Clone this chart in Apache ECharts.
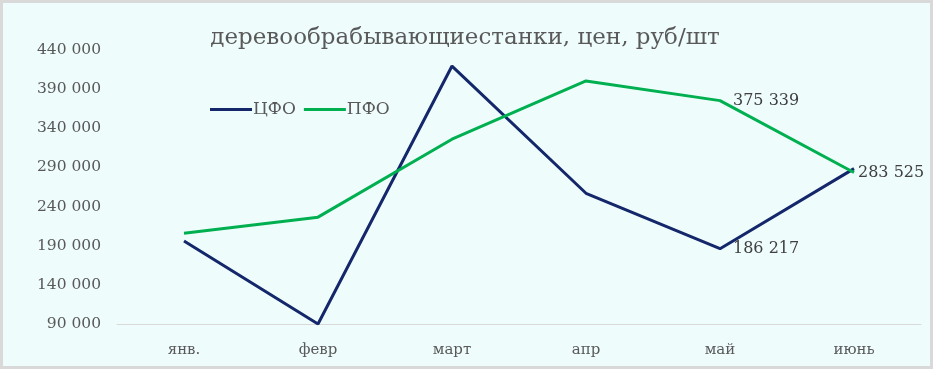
<!DOCTYPE html>
<html><head><meta charset="utf-8">
<script src="https://cdn.jsdelivr.net/npm/echarts@6/dist/echarts.min.js"></script>
<style>
html,body{margin:0;padding:0;background:#fff;}
#c{width:933px;height:369px;box-sizing:border-box;border:3px solid #d9d9d9;background:#effcfc;}
</style></head><body>
<div id="c"></div>
<script>
const categories = ['янв.', 'февр', 'март', 'апр', 'май', 'июнь'];
const cfo = [196000, 90000, 419500, 257000, 186217, 288500];
const pfo = [206000, 226500, 326000, 400500, 375339, 283525];
const labelIdxCfo = [4];
const labelIdxPfo = [4, 5];
const yMin = 90000, yMax = 440000, yStep = 50000;

const fmt = v => String(Math.round(v)).replace(/\B(?=(\d{3})+(?!\d))/g, ' ');
const font = '"DejaVu Serif", "Liberation Serif", serif';
const chart = echarts.init(document.getElementById('c'));
function mk(vals, idx) {
  return vals.map((v, i) => idx.includes(i)
    ? {value: v, label: {show: true, distance: i === vals.length - 1 ? 4 : 13}} : v);
}
chart.setOption({
  backgroundColor: 'transparent',
  animation: false,
  title: {
    text: 'деревообрабывающиестанки, цен, руб/шт',
    left: 457, top: 19, textAlign: 'center',
    textStyle: {fontFamily: font, fontSize: 23, fontWeight: 'normal', color: '#595959'}
  },
  legend: {
    left: 202, top: 93, itemWidth: 42, itemHeight: 3, itemGap: 8,
    icon: 'rect',
    textStyle: {fontFamily: font, fontSize: 17, color: '#595959', padding: [0, 0, 0, -4]},
    data: ['ЦФО', 'ПФО']
  },
  grid: {left: 114, right: 9, top: 47, bottom: 42},
  xAxis: {
    type: 'category', data: categories, boundaryGap: true,
    axisLine: {lineStyle: {color: '#d9d9d9', width: 1}},
    axisTick: {show: false},
    axisLabel: {fontFamily: font, fontSize: 15, color: '#595959', margin: 19}
  },
  yAxis: {
    type: 'value', min: yMin, max: yMax, interval: yStep,
    axisLine: {show: false}, axisTick: {show: false},
    splitLine: {show: false},
    axisLabel: {fontFamily: font, fontSize: 15.5, color: '#595959', margin: 16, formatter: fmt}
  },
  series: [
    {name: 'ЦФО', type: 'line', data: mk(cfo, labelIdxCfo), symbol: 'circle', symbolSize: 0, showSymbol: true,
     lineStyle: {color: '#14276a', width: 3}, itemStyle: {color: '#14276a'},
     label: {show: false, position: 'right', fontFamily: font, fontSize: 16, color: '#404040', formatter: p => fmt(p.value)}},
    {name: 'ПФО', type: 'line', data: mk(pfo, labelIdxPfo), symbol: 'circle', symbolSize: 0, showSymbol: true,
     lineStyle: {color: '#00b050', width: 3}, itemStyle: {color: '#00b050'},
     label: {show: false, position: 'right', fontFamily: font, fontSize: 16, color: '#404040', formatter: p => fmt(p.value)}}
  ]
});
</script></body></html>
